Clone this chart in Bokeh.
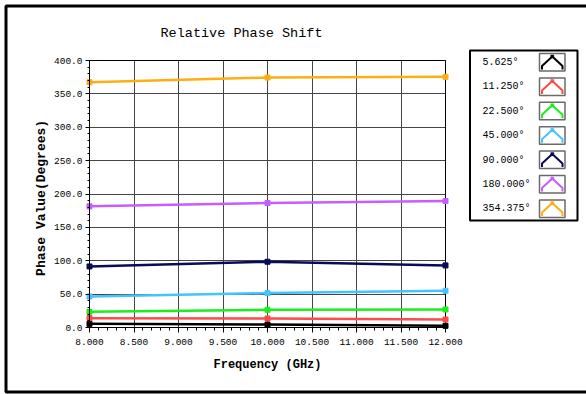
from bokeh.plotting import figure
from bokeh.models import (Range1d, Label, BoxAnnotation, PolyAnnotation,
                          SingleIntervalTicker, NumeralTickFormatter)
from bokeh.embed import file_html
from bokeh.resources import INLINE

# ---- data ----
freq = [8.0, 10.0, 12.0]
series_names = ["5.625°", "11.250°", "22.500°", "45.000°", "90.000°", "180.000°", "354.375°"]
s_5625 = [5.5, 4.5, 2.5]
s_11250 = [14.0, 13.5, 12.0]
s_22500 = [23.5, 26.5, 27.0]
s_45000 = [46.5, 51.5, 55.0]
s_90000 = [91.5, 98.5, 93.0]
s_180000 = [181.5, 186.5, 189.5]
s_354375 = [367.5, 374.5, 375.5]
series_values = [s_5625, s_11250, s_22500, s_45000, s_90000, s_180000, s_354375]
colors = ["#000000", "#ff4a4a", "#19f019", "#45c3ff", "#0a0a5a", "#c75cff", "#ffae12"]
x_lo, x_hi = 8.0, 12.0
y_lo, y_hi = 0.0, 400.0

W, H = 586, 394
PL, PR, PT, PB = 89, 445, 60, 327  # plot area in canvas px (top-left origin)

# the frame covers the whole canvas; map the plot area onto PL..PR / PT..PB
xpp = (x_hi - x_lo) / (PR - PL)
ypp = (y_hi - y_lo) / (PB - PT)
x_range = Range1d(x_lo - PL * xpp, x_hi + (W - PR) * xpp)
y_range = Range1d(y_lo - (H - PB) * ypp, y_hi + PT * ypp)

p = figure(width=W, height=H, output_backend="svg", toolbar_location=None,
           x_range=x_range, y_range=y_range, min_border=0,
           background_fill_color="white", border_fill_color="white")
p.outline_line_color = None

MONO = "Liberation Mono"

# axes (fixed at the plot-area edges)
p.xaxis.fixed_location = y_lo
p.yaxis.fixed_location = x_lo
p.xaxis.bounds = (x_lo, x_hi)
p.yaxis.bounds = (y_lo, y_hi)
p.xaxis.ticker = SingleIntervalTicker(interval=0.5, num_minor_ticks=5)
p.yaxis.ticker = SingleIntervalTicker(interval=50, num_minor_ticks=5)
p.xaxis.formatter = NumeralTickFormatter(format="0.000")
p.yaxis.formatter = NumeralTickFormatter(format="0.0")
for ax in (p.xaxis, p.yaxis):
    ax.axis_line_color = "black"
    ax.major_tick_line_color = "black"
    ax.minor_tick_line_color = "black"
    ax.major_tick_in = 0
    ax.minor_tick_in = 0
    ax.major_label_text_font = MONO
    ax.major_label_text_font_size = "9.5px"
    ax.major_label_text_color = "black"
    ax.axis_label_text_font = MONO
    ax.axis_label_text_font_style = "bold"
    ax.axis_label_text_color = "black"
p.xaxis.axis_label_text_font_size = "12px"
p.yaxis.axis_label_text_font_size = "13px"
p.xaxis.major_tick_out = 5
p.xaxis.minor_tick_out = 3
p.yaxis.major_tick_out = 4
p.yaxis.minor_tick_out = 2
p.xaxis.major_label_standoff = 6
p.yaxis.major_label_standoff = 3
p.xaxis.axis_label = "Frequency (GHz)"
p.yaxis.axis_label = "Phase  Value(Degrees)"
p.xaxis.axis_label_standoff = 10
p.yaxis.axis_label_standoff = 2

# grid limited to the plot area
p.xgrid.ticker = p.xaxis[0].ticker
p.ygrid.ticker = p.yaxis[0].ticker
for g in (p.xgrid, p.ygrid):
    g.grid_line_color = "#454545"
    g.grid_line_width = 1
    g.grid_line_alpha = 1
p.xgrid.bounds = (x_lo, x_hi)
p.ygrid.bounds = (y_lo, y_hi)
p.xgrid.cross_bounds = (y_lo, y_hi)
p.ygrid.cross_bounds = (x_lo, x_hi)

# plot-area outline
p.add_layout(BoxAnnotation(left=x_lo, right=x_hi, bottom=y_lo, top=y_hi,
                           fill_alpha=0, line_color="black", line_alpha=1, line_width=1,
                           level="underlay"))

# series
for name, vals, c in zip(series_names, series_values, colors):
    p.line(freq, vals, line_color=c, line_width=2.5)
    p.scatter(freq, vals, marker="square", size=5, fill_color=c, line_color=c)


# helpers: canvas coords (top-left origin) -> screen units (bottom-left origin)
def fx(x):
    return x


def fy(y):
    return H - y


def sbox(left, right, top, bottom, **kw):
    return BoxAnnotation(left=fx(left), right=fx(right), top=fy(top), bottom=fy(bottom),
                         left_units="screen", right_units="screen",
                         top_units="screen", bottom_units="screen", line_alpha=1, **kw)


# outer black frame
p.add_layout(sbox(5.5, 640, 5.5, 391.5, fill_alpha=0, line_color="black", line_width=3,
                  level="overlay"))

# title
p.add_layout(Label(x=fx(241), y=fy(33), x_units="screen", y_units="screen",
                   text="Relative Phase Shift", text_font=MONO, text_font_size="13.5px",
                   text_align="center", text_baseline="middle", text_color="black"))

# legend
p.add_layout(sbox(469.5, 577, 50, 220, fill_color="white", fill_alpha=1, line_color="black",
                  line_width=2, level="overlay"))
for i, (name, c) in enumerate(zip(series_names, colors)):
    cy = 62 + i * 24.4
    p.add_layout(Label(x=fx(482), y=fy(cy), x_units="screen", y_units="screen",
                       text=name, text_font=MONO, text_font_size="10px",
                       text_align="left", text_baseline="middle", text_color="black",
                       level="overlay"))
    p.add_layout(sbox(539, 564.5, cy - 9, cy + 8.5, fill_color="white", fill_alpha=1,
                      line_color="#6a6a6a", line_width=1.5, level="overlay"))
    xs = [541.5, 541.5, 551.8, 562, 562, 562, 551.8, 541.5]
    ys = [cy + 7, cy + 3.5, cy - 6, cy + 3.5, cy + 7, cy + 3.5, cy - 6, cy + 3.5]
    p.add_layout(PolyAnnotation(xs=[fx(v) for v in xs], ys=[fy(v) for v in ys],
                                xs_units="screen", ys_units="screen",
                                fill_alpha=0, line_color=c, line_alpha=1, line_width=2,
                                level="overlay"))
    p.add_layout(sbox(550.3, 553.3, cy - 7.5, cy - 4.5, fill_color=c, fill_alpha=1,
                      line_color=c, line_width=0.5, level="overlay"))

open("out.html", "w").write(file_html(p, INLINE))
